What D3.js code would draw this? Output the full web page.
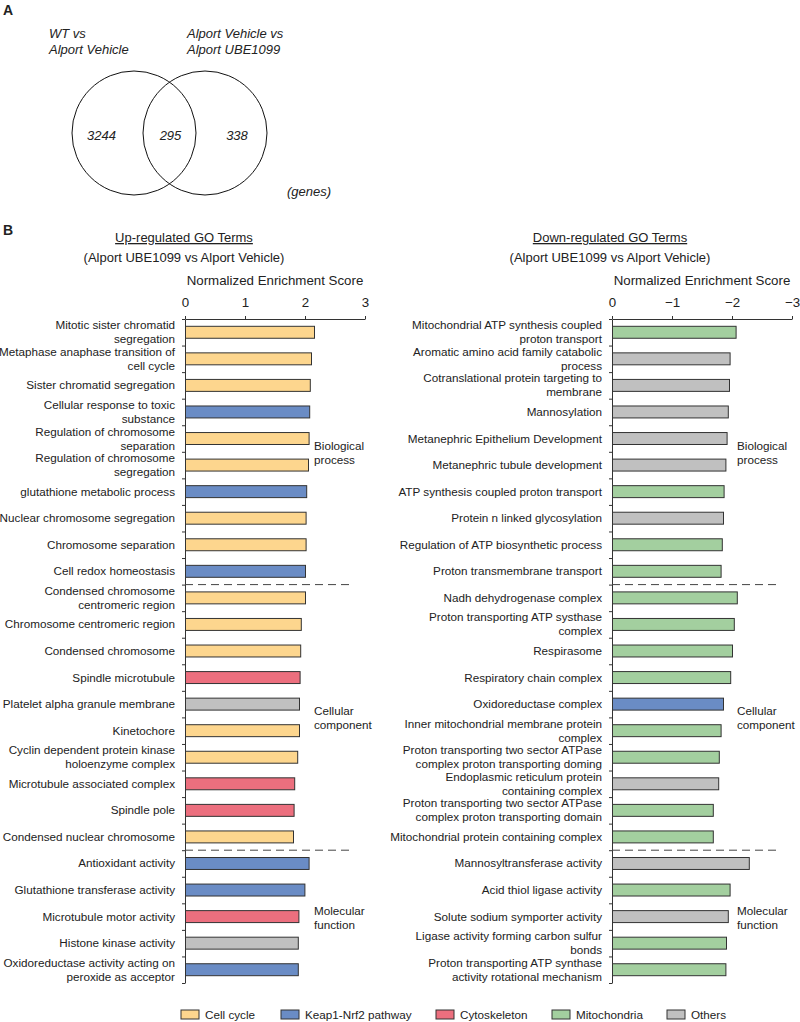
<!DOCTYPE html>
<html lang="en">
<head>
<meta charset="UTF-8">
<title>GO term enrichment</title>
<style>
  body {
    margin: 0;
    background-color: #fff;
  }
  svg text {
    font-family: "Liberation Sans", Arial, Helvetica, sans-serif;
    fill: #222;
  }
  .axis path,
  .axis line {
    fill: none;
    stroke: #333;
  }
  .bar {
    stroke: #333;
    stroke-width: 1;
  }
</style>
</head>
<body>
<div class="vizHolder"></div>
<script src="https://cdnjs.cloudflare.com/ajax/libs/d3/7.8.5/d3.min.js"></script>
<script>
// venn counts
var vennCounts = [3244, 295, 338];
var vennTitles = [["WT vs", "Alport Vehicle"], ["Alport Vehicle vs", "Alport UBE1099"]];

// up-regulated terms
var upLabels = [
  "Mitotic sister chromatid\nsegregation",
  "Metaphase anaphase transition of\ncell cycle",
  "Sister chromatid segregation",
  "Cellular response to toxic\nsubstance",
  "Regulation of chromosome\nseparation",
  "Regulation of chromosome\nsegregation",
  "glutathione metabolic process",
  "Nuclear chromosome segregation",
  "Chromosome separation",
  "Cell redox homeostasis",
  "Condensed chromosome\ncentromeric region",
  "Chromosome centromeric region",
  "Condensed chromosome ",
  "Spindle microtubule",
  "Platelet alpha granule membrane",
  "Kinetochore",
  "Cyclin dependent protein kinase\nholoenzyme complex",
  "Microtubule associated complex",
  "Spindle pole",
  "Condensed nuclear chromosome",
  "Antioxidant activity",
  "Glutathione transferase activity",
  "Microtubule motor activity",
  "Histone kinase activity",
  "Oxidoreductase activity acting on\nperoxide as acceptor"
];
var upValues = [2.15, 2.10, 2.08, 2.07, 2.06, 2.05, 2.02, 2.01, 2.01, 2.00,
  2.00, 1.93, 1.92, 1.91, 1.90, 1.90, 1.87, 1.82, 1.81, 1.80,
  2.06, 1.99, 1.89, 1.88, 1.88];
var upCategory = ["cc", "cc", "cc", "kn", "cc", "cc", "kn", "cc", "cc", "kn",
  "cc", "cc", "cc", "cy", "ot", "cc", "cc", "cy", "cy", "cc",
  "kn", "kn", "cy", "ot", "kn"];

// down-regulated terms
var downLabels = [
  "Mitochondrial ATP synthesis coupled\nproton transport",
  "Aromatic amino acid family catabolic\nprocess",
  "Cotranslational protein targeting to\nmembrane",
  "Mannosylation",
  "Metanephric Epithelium Development",
  "Metanephric tubule development",
  "ATP synthesis coupled proton transport",
  "Protein n linked glycosylation",
  "Regulation of ATP biosynthetic process",
  "Proton transmembrane transport",
  "Nadh dehydrogenase complex",
  "Proton transporting ATP systhase\ncomplex",
  "Respirasome",
  "Respiratory chain complex",
  "Oxidoreductase complex",
  "Inner mitochondrial membrane protein\ncomplex",
  "Proton transporting two sector ATPase\ncomplex proton transporting doming",
  "Endoplasmic reticulum protein\ncontaining complex",
  "Proton transporting two sector ATPase\ncomplex proton transporting domain",
  "Mitochondrial protein containing complex",
  "Mannosyltransferase activity",
  "Acid thiol ligase activity",
  "Solute sodium symporter activity",
  "Ligase activity forming carbon sulfur\nbonds",
  "Proton transporting ATP synthase\nactivity rotational mechanism"
];
var downValues = [-2.06, -1.96, -1.95, -1.93, -1.91, -1.89, -1.86, -1.85, -1.83, -1.81,
  -2.08, -2.03, -2.00, -1.97, -1.85, -1.81, -1.78, -1.77, -1.68, -1.68,
  -2.28, -1.96, -1.93, -1.90, -1.89];
var downCategory = ["mi", "ot", "ot", "ot", "ot", "ot", "mi", "ot", "mi", "mi",
  "mi", "mi", "mi", "mi", "kn", "mi", "mi", "ot", "mi", "mi",
  "ot", "mi", "ot", "mi", "mi"];

var groupNames = [["Biological", "process"], ["Cellular", "component"], ["Molecular", "function"]];
var groupSizes = [10, 10, 5];

var catKeys = ["cc", "kn", "cy", "mi", "ot"];
var catNames = ["Cell cycle", "Keap1-Nrf2 pathway", "Cytoskeleton", "Mitochondria", "Others"];
var catColors = ["#fdd68e", "#6a8cc5", "#ec6f7e", "#a3cf9f", "#c0c0c0"];

var color = d3.scaleOrdinal().domain(catKeys).range(catColors);

var W = 800, H = 1022;
var labelSize = '11.7px';

var svg = d3.select('.vizHolder').
append('svg').
attr('width', W).
attr('height', H);

// ---- panel A : venn ----
svg.append('text').
attr('x', 3).
attr('y', 15).
style('font-weight', 'bold').
style('font-size', '14px').
text('A');

var vennX = d3.scaleLinear().domain([0, 1]).range([134, 205]);
var venn = svg.append('g');

venn.selectAll('circle').
data([0, 1]).
enter().append('circle').
attr('cx', function (d) { return vennX(d); }).
attr('cy', 133).
attr('r', 62).
style('fill', 'none').
style('stroke', '#111').
style('stroke-width', 1);

var titleX = [49, 187];
vennTitles.forEach(function (lines, i) {
  var t = venn.append('text').
  attr('x', titleX[i]).
  attr('y', 38).
  style('font-style', 'italic').
  style('font-size', '13px');
  lines.forEach(function (l, j) {
    t.append('tspan').attr('x', titleX[i]).attr('dy', j ? 16 : 0).text(l);
  });
});

var countX = [101.5, 170.5, 237];
venn.selectAll('.count').
data(vennCounts).
enter().append('text').
attr('class', 'count').
attr('x', function (d, i) { return countX[i]; }).
attr('y', 139.5).
attr('text-anchor', 'middle').
style('font-style', 'italic').
style('font-size', '13px').
text(function (d) { return d; });

venn.append('text').
attr('x', 287).
attr('y', 196).
style('font-style', 'italic').
style('font-size', '13px').
text('(genes)');

// ---- panel B ----
svg.append('text').
attr('x', 3).
attr('y', 235).
style('font-weight', 'bold').
style('font-size', '14px').
text('B');

var yTop = 319, yBottom = 983;
var nRows = upLabels.length;

var yBand = d3.scaleBand().
domain(d3.range(nRows)).
range([yTop, yBottom]).
paddingInner(0.55).
paddingOuter(0.275);

var yLin = d3.scaleLinear().domain([0, nRows]).range([yTop, yBottom]);

function drawPanel(opts) {
  var g = svg.append('g');
  var x = d3.scaleLinear().domain(opts.domain).range([opts.x0, opts.x0 + 180]);

  // headers
  g.append('text').
  attr('x', opts.cx).
  attr('y', 242).
  attr('text-anchor', 'middle').
  style('font-size', '13px').
  style('text-decoration', 'underline').
  text(opts.title);
  g.append('text').
  attr('x', opts.cx).
  attr('y', 262).
  attr('text-anchor', 'middle').
  style('font-size', '13px').
  text('(Alport UBE1099 vs Alport Vehicle)');
  g.append('text').
  attr('x', opts.x0 + 90).
  attr('y', 285).
  attr('text-anchor', 'middle').
  style('font-size', '13.3px').
  text('Normalized Enrichment Score');

  // x axis on top
  var xAxis = d3.axisTop(x).
  tickValues(opts.ticks).
  tickFormat(d3.format('d')).
  tickSize(3).
  tickSizeOuter(0).
  tickPadding(9);
  var xg = g.append('g').
  attr('class', 'axis').
  attr('transform', 'translate(0,' + yTop + ')').
  call(xAxis);
  xg.selectAll('text').
  style('font-size', '13.3px').
  style('fill', '#222').
  style('font-family', '"Liberation Sans", Arial, sans-serif');

  // y axis with ticks at row boundaries
  var yAxis = d3.axisLeft(yLin).
  tickValues(d3.range(nRows + 1)).
  tickFormat('').
  tickSize(3).
  tickSizeOuter(0);
  g.append('g').
  attr('class', 'axis').
  attr('transform', 'translate(' + opts.x0 + ',0)').
  call(yAxis);

  // bars
  g.selectAll('.bar').
  data(opts.values).
  enter().append('rect').
  attr('class', 'bar').
  attr('x', x(0) + 0.5).
  attr('y', function (d, i) { return yBand(i); }).
  attr('width', function (d) { return Math.abs(x(d) - x(0)); }).
  attr('height', yBand.bandwidth()).
  style('fill', function (d, i) { return color(opts.cats[i]); });

  // category labels
  g.selectAll('.label').
  data(opts.labels).
  enter().append('text').
  attr('class', 'label').
  attr('text-anchor', 'end').
  style('font-size', labelSize).
  each(function (d, i) {
    var lines = d.split('\n');
    var cy = yBand(i) + yBand.bandwidth() / 2;
    var t = d3.select(this);
    lines.forEach(function (l, j) {
      t.append('tspan').
      attr('x', opts.x0 - 10).
      attr('y', cy + 4 + (j - (lines.length - 1) / 2) * 14).
      text(l);
    });
  });

  // dashed separators + group names
  var start = 0;
  groupSizes.forEach(function (n, k) {
    if (k > 0) {
      g.append('line').
      attr('x1', opts.x0).
      attr('x2', opts.dashEnd).
      attr('y1', yLin(start)).
      attr('y2', yLin(start)).
      style('stroke', '#444').
      style('stroke-dasharray', '8,5');
    }
    var mid = yLin(start + n / 2);
    var t = g.append('text').
    attr('x', opts.groupX).
    style('font-size', labelSize);
    groupNames[k].forEach(function (l, j) {
      t.append('tspan').
      attr('x', opts.groupX).
      attr('y', mid - 2 + j * 14).
      text(l);
    });
    start += n;
  });
}

drawPanel({
  x0: 185,
  domain: [0, 3],
  ticks: [0, 1, 2, 3],
  cx: 184,
  title: 'Up-regulated GO Terms',
  labels: upLabels,
  values: upValues,
  cats: upCategory,
  dashEnd: 352,
  groupX: 314
});

drawPanel({
  x0: 612,
  domain: [0, -3],
  ticks: [0, -1, -2, -3],
  cx: 610,
  title: 'Down-regulated GO Terms',
  labels: downLabels,
  values: downValues,
  cats: downCategory,
  dashEnd: 778,
  groupX: 737
});

// legend
var legX = [181, 281, 436, 552, 667];
var legend = svg.selectAll('.legend').
data(catKeys).
enter().append('g').
attr('class', 'legend').
attr('transform', function (d, i) { return 'translate(' + legX[i] + ',1010)'; });

legend.append('rect').
attr('width', 18).
attr('height', 9).
style('fill', function (d) { return color(d); }).
style('stroke', '#333');

legend.append('text').
attr('x', 24).
attr('y', 9).
style('font-size', labelSize).
text(function (d, i) { return catNames[i]; });
</script>
</body>
</html>
